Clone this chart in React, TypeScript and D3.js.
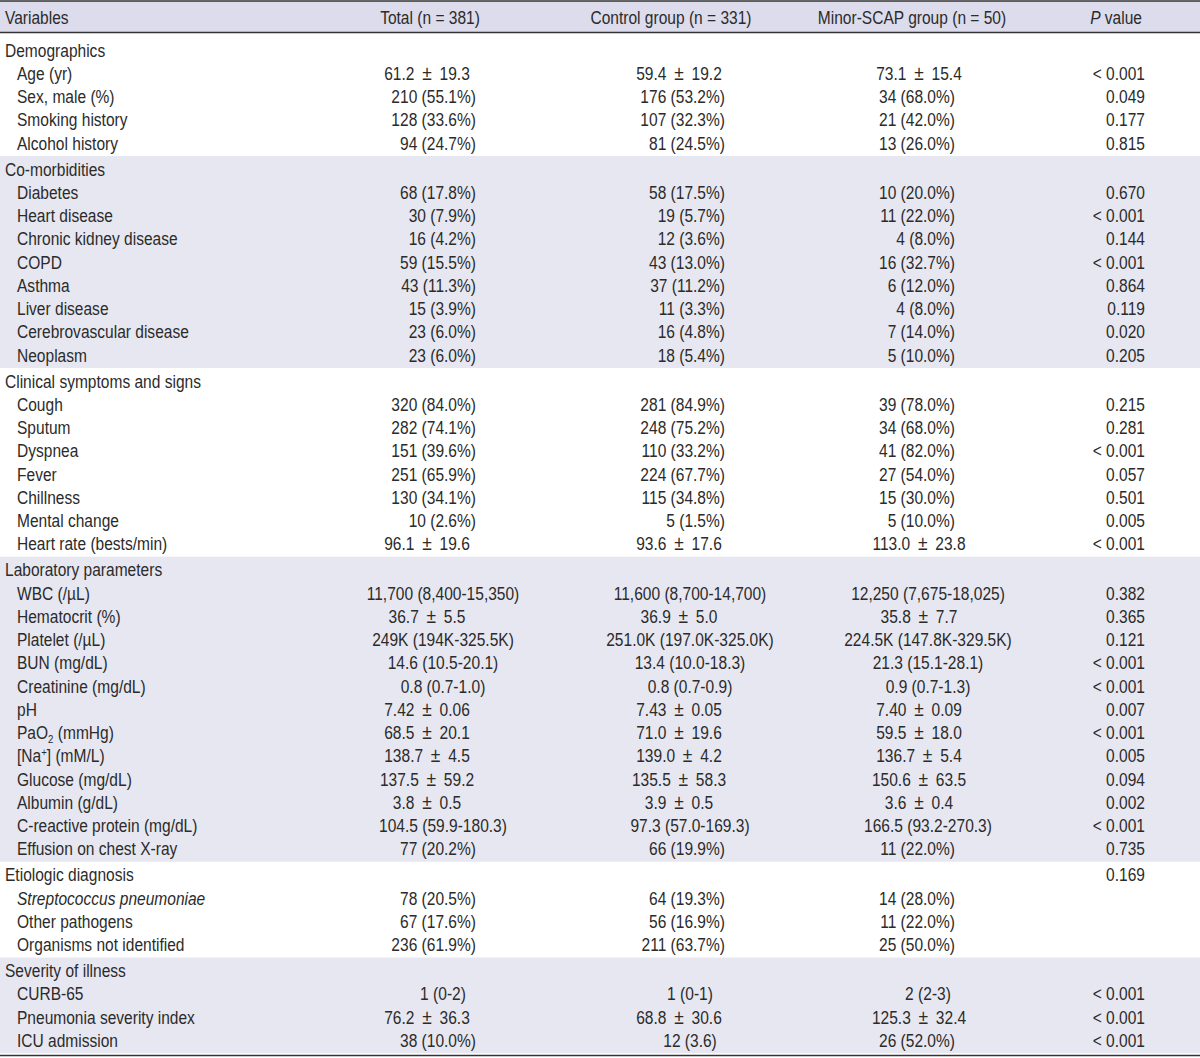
import React from "react";
import * as d3 from "d3";

const headers = ["Variables", "Total (n = 381)", "Control group (n = 331)", "Minor-SCAP group (n = 50)", "*P* value"];

const sectionNames = [
  "Demographics",
  "Co-morbidities",
  "Clinical symptoms and signs",
  "Laboratory parameters",
  "Etiologic diagnosis",
  "Severity of illness",
];
const sectionSizes = [4, 8, 7, 12, 3, 3];
const sectionP = ["", "", "", "", "0.169", ""];

const variableNames = [
  "Age (yr)", "Sex, male (%)", "Smoking history", "Alcohol history",
  "Diabetes", "Heart disease", "Chronic kidney disease", "COPD", "Asthma", "Liver disease", "Cerebrovascular disease", "Neoplasm",
  "Cough", "Sputum", "Dyspnea", "Fever", "Chillness", "Mental change", "Heart rate (bests/min)",
  "WBC (/µL)", "Hematocrit (%)", "Platelet (/µL)", "BUN (mg/dL)", "Creatinine (mg/dL)", "pH", "PaO_2 (mmHg)", "[Na^+] (mM/L)", "Glucose (mg/dL)", "Albumin (g/dL)", "C-reactive protein (mg/dL)", "Effusion on chest X-ray",
  "*Streptococcus pneumoniae*", "Other pathogens", "Organisms not identified",
  "CURB-65", "Pneumonia severity index", "ICU admission",
];

const totalCol = [
  "61.2 ± 19.3", "210 (55.1%)", "128 (33.6%)", "94 (24.7%)",
  "68 (17.8%)", "30 (7.9%)", "16 (4.2%)", "59 (15.5%)", "43 (11.3%)", "15 (3.9%)", "23 (6.0%)", "23 (6.0%)",
  "320 (84.0%)", "282 (74.1%)", "151 (39.6%)", "251 (65.9%)", "130 (34.1%)", "10 (2.6%)", "96.1 ± 19.6",
  "11,700 (8,400-15,350)", "36.7 ± 5.5", "249K (194K-325.5K)", "14.6 (10.5-20.1)", "0.8 (0.7-1.0)", "7.42 ± 0.06", "68.5 ± 20.1", "138.7 ± 4.5", "137.5 ± 59.2", "3.8 ± 0.5", "104.5 (59.9-180.3)", "77 (20.2%)",
  "78 (20.5%)", "67 (17.6%)", "236 (61.9%)",
  "1 (0-2)", "76.2 ± 36.3", "38 (10.0%)",
];

const controlCol = [
  "59.4 ± 19.2", "176 (53.2%)", "107 (32.3%)", "81 (24.5%)",
  "58 (17.5%)", "19 (5.7%)", "12 (3.6%)", "43 (13.0%)", "37 (11.2%)", "11 (3.3%)", "16 (4.8%)", "18 (5.4%)",
  "281 (84.9%)", "248 (75.2%)", "110 (33.2%)", "224 (67.7%)", "115 (34.8%)", "5 (1.5%)", "93.6 ± 17.6",
  "11,600 (8,700-14,700)", "36.9 ± 5.0", "251.0K (197.0K-325.0K)", "13.4 (10.0-18.3)", "0.8 (0.7-0.9)", "7.43 ± 0.05", "71.0 ± 19.6", "139.0 ± 4.2", "135.5 ± 58.3", "3.9 ± 0.5", "97.3 (57.0-169.3)", "66 (19.9%)",
  "64 (19.3%)", "56 (16.9%)", "211 (63.7%)",
  "1 (0-1)", "68.8 ± 30.6", "12 (3.6)",
];

const minorCol = [
  "73.1 ± 15.4", "34 (68.0%)", "21 (42.0%)", "13 (26.0%)",
  "10 (20.0%)", "11 (22.0%)", "4 (8.0%)", "16 (32.7%)", "6 (12.0%)", "4 (8.0%)", "7 (14.0%)", "5 (10.0%)",
  "39 (78.0%)", "34 (68.0%)", "41 (82.0%)", "27 (54.0%)", "15 (30.0%)", "5 (10.0%)", "113.0 ± 23.8",
  "12,250 (7,675-18,025)", "35.8 ± 7.7", "224.5K (147.8K-329.5K)", "21.3 (15.1-28.1)", "0.9 (0.7-1.3)", "7.40 ± 0.09", "59.5 ± 18.0", "136.7 ± 5.4", "150.6 ± 63.5", "3.6 ± 0.4", "166.5 (93.2-270.3)", "11 (22.0%)",
  "14 (28.0%)", "11 (22.0%)", "25 (50.0%)",
  "2 (2-3)", "125.3 ± 32.4", "26 (52.0%)",
];

const pCol = [
  "< 0.001", "0.049", "0.177", "0.815",
  "0.670", "< 0.001", "0.144", "< 0.001", "0.864", "0.119", "0.020", "0.205",
  "0.215", "0.281", "< 0.001", "0.057", "0.501", "0.005", "< 0.001",
  "0.382", "0.365", "0.121", "< 0.001", "< 0.001", "0.007", "< 0.001", "0.005", "0.094", "0.002", "< 0.001", "0.735",
  "", "", "",
  "< 0.001", "< 0.001", "< 0.001",
];

const shadedSections = [false, true, false, true, false, true];

const W = 1200;
const H = 1058;
const FONT = "'Liberation Sans', Arial, sans-serif";
const FS = 18.5;
const SX = 0.84;
const TEXT = "#2b2b2b";
const HEADER_BG = "#dcdcec";
const BAND_BG = "#e7e7f1";

function RichText({ s }: { s: string }) {
  // supports *italic*, _x subscript, ^x superscript; larger ± with wider spacing
  s = s.replace(/ ± /g, "\u2002±\u2002");
  const parts: React.ReactNode[] = [];
  let i = 0;
  let buf = "";
  let key = 0;
  let pendingDy = 0;
  const flush = () => {
    if (buf) {
      parts.push(<tspan key={key++} dy={pendingDy || undefined}>{buf}</tspan>);
      pendingDy = 0;
    }
    buf = "";
  };
  while (i < s.length) {
    const c = s[i];
    if (c === "*") {
      flush();
      const j = s.indexOf("*", i + 1);
      parts.push(<tspan key={key++} fontStyle="italic" dy={pendingDy || undefined}>{s.slice(i + 1, j)}</tspan>);
      pendingDy = 0;
      i = j + 1;
    } else if (c === "±") {
      flush();
      parts.push(<tspan key={key++} fontSize={FS * 1.12}>±</tspan>);
      i++;
    } else if (c === "_" || c === "^") {
      flush();
      const ch = s[i + 1];
      const dy = c === "_" ? 3.5 : -6.5;
      parts.push(<tspan key={key++} fontSize={FS * 0.62} dy={dy}>{ch}</tspan>);
      pendingDy = -dy;
      i += 2;
    } else {
      buf += c;
      i++;
    }
  }
  flush();
  return <>{parts}</>;
}

function T({ x, y, anchor, s }: { x: number; y: number; anchor?: string; s: string }) {
  return (
    <g transform={`translate(${x},${y}) scale(${SX},1)`}>
      <text x={0} y={0} textAnchor={anchor || "start"}>
        <RichText s={s} />
      </text>
    </g>
  );
}

// column anchors by value format: percent -> right edge, mean ± sd -> centre, median (IQR) -> centre
const colKeys = ["total", "control", "minor"];
const pctRight = d3.scaleOrdinal<string, number>().domain(colKeys).range([476, 725, 955]);
const pmCenter = d3.scaleOrdinal<string, number>().domain(colKeys).range([427, 679, 919]);
const iqrCenter = d3.scaleOrdinal<string, number>().domain(colKeys).range([443, 690, 928]);

function cellPos(col: string, v: string): { x: number; anchor: string } {
  if (v.includes("%")) return { x: pctRight(col), anchor: "end" };
  if (v.includes("±")) return { x: pmCenter(col), anchor: "middle" };
  return { x: iqrCenter(col), anchor: "middle" };
}

export default function App() {
  const rowH = 23.25;
  const secGap = 2.75;
  const firstY = 50;

  type Row = { kind: "section" | "item"; label: string; sec: number; idx: number; y: number };
  const rows: Row[] = [];
  let y = firstY;
  let k = 0;
  const sectionExtents: { top: number; bottom: number }[] = [];
  sectionNames.forEach((name, s) => {
    if (s > 0) y += secGap;
    const top = y - 13;
    rows.push({ kind: "section", label: name, sec: s, idx: -1, y });
    y += rowH;
    for (let r = 0; r < sectionSizes[s]; r++) {
      rows.push({ kind: "item", label: variableNames[k], sec: s, idx: k, y });
      k++;
      y += rowH;
    }
    sectionExtents.push({ top, bottom: y - rowH + 13 });
  });

  const x = d3.scaleOrdinal<string, number>()
    .domain(["label", "item", "p"])
    .range([5, 17, 1145]);
  const headerX = d3.scaleOrdinal<string, number>()
    .domain(["label", "total", "control", "minor", "p"])
    .range([5, 430, 671, 912, 1142]);

  const baseOff = 6.5;
  const headerTop = 1;
  const headerBottom = 32.5;
  const headerY = 17;

  const cols: [string, string[]][] = [["total", totalCol], ["control", controlCol], ["minor", minorCol]];

  return (
    <svg
      width={W}
      height={H}
      style={{ position: "absolute", left: 0, top: 0, background: "#fff" }}
      fontFamily={FONT}
      fontSize={FS}
      fill={TEXT}
    >
      <rect x={0} y={0} width={W} height={H} fill="#fff" />
      <rect x={0} y={headerTop} width={W} height={headerBottom - headerTop} fill={HEADER_BG} />
      {sectionExtents.map((e, s) =>
        shadedSections[s] ? (
          <rect key={s} x={0} y={e.top} width={W} height={e.bottom - e.top} fill={BAND_BG} />
        ) : null
      )}
      <line x1={0} x2={W} y1={headerTop} y2={headerTop} stroke="#333" strokeWidth={1.5} />
      <line x1={0} x2={W} y1={headerBottom} y2={headerBottom} stroke="#333" strokeWidth={1.5} />
      <line x1={0} x2={W} y1={1055.5} y2={1055.5} stroke="#333" strokeWidth={1.5} />

      <T x={headerX("label")} y={headerY + baseOff} s={headers[0]} />
      <T x={headerX("total")} y={headerY + baseOff} anchor="middle" s={headers[1]} />
      <T x={headerX("control")} y={headerY + baseOff} anchor="middle" s={headers[2]} />
      <T x={headerX("minor")} y={headerY + baseOff} anchor="middle" s={headers[3]} />
      <T x={headerX("p")} y={headerY + baseOff} anchor="end" s={headers[4]} />

      {rows.map((r, i) => {
        const by = r.y + baseOff;
        if (r.kind === "section") {
          return (
            <g key={i}>
              <T x={x("label")} y={by} s={r.label} />
              {sectionP[r.sec] ? <T x={x("p")} y={by} anchor="end" s={sectionP[r.sec]} /> : null}
            </g>
          );
        }
        return (
          <g key={i}>
            <T x={x("item")} y={by} s={r.label} />
            {cols.map(([c, arr]) => {
              const v = arr[r.idx];
              const p = cellPos(c, v);
              return <T key={c} x={p.x} y={by} anchor={p.anchor} s={v} />;
            })}
            {pCol[r.idx] ? <T x={x("p")} y={by} anchor="end" s={pCol[r.idx]} /> : null}
          </g>
        );
      })}
    </svg>
  );
}
